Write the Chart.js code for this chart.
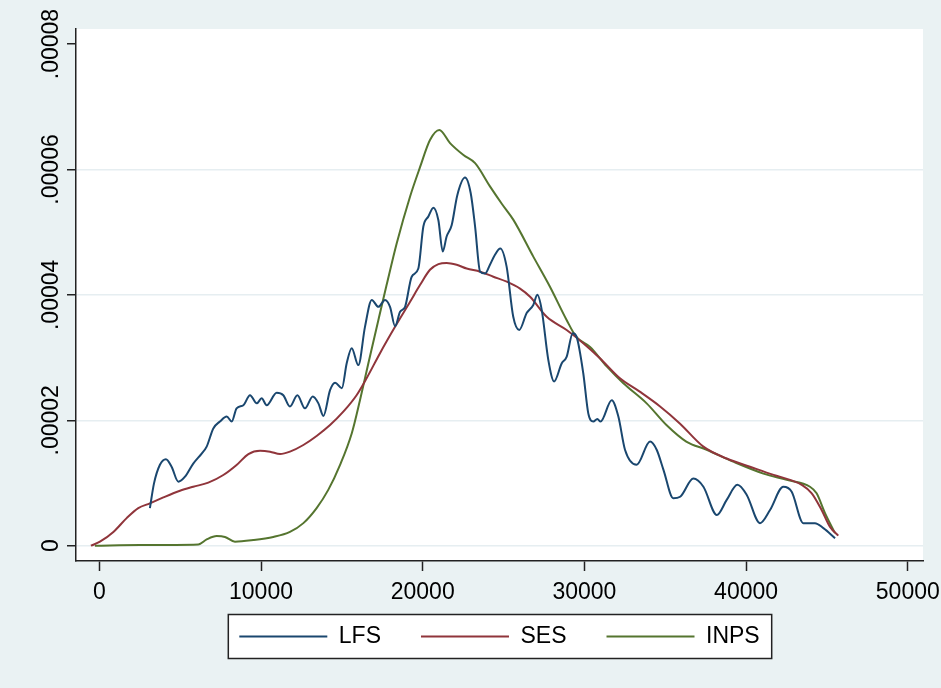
<!DOCTYPE html>
<html>
<head>
<meta charset="utf-8">
<script src="https://cdn.jsdelivr.net/npm/chart.js@4.4.1/dist/chart.umd.min.js"></script>
<style>
  html, body { margin: 0; padding: 0; background: #eaf2f3; }
  #wrap { width: 941px; height: 688px; }
</style>
</head>
<body>
<div id="wrap"><canvas id="densityChart" width="941" height="688"></canvas></div>
<script>
// values
const seriesNames = ['LFS', 'SES', 'INPS'];
const seriesColors = ['#1a476f', '#90353b', '#55752f'];
const xTicks = [0, 10000, 20000, 30000, 40000, 50000];
const yTicks = [0, 0.00002, 0.00004, 0.00006, 0.00008];

const lfsX = [3130, 3380, 3750, 4120, 4470, 4890, 5300, 5810, 6330, 6640, 7050, 7460, 7880, 8190, 8490, 8910,
  9320, 9740, 10040, 10350, 10970, 11380, 11790, 12250, 12720, 13200, 13550, 13860, 14270, 14580, 15000, 15300,
  15610, 16020, 16430, 16850, 17260, 17670, 17980, 18290, 18600, 18910, 19320, 19730, 20040, 20350, 20660, 20970,
  21240, 21480, 21790, 22140, 22620, 22970, 23240, 23550, 23860, 24160, 24470, 24800, 25190, 25600, 25970, 26430,
  26840, 27090, 27360, 27770, 28130, 28600, 28900, 29280, 29520, 29930, 30240, 30550, 30800, 31000, 31690, 32100,
  32510, 33230, 34060, 34470, 34890, 35500, 35920, 36740, 37360, 38190, 38800, 39460, 40040, 40860, 41480, 42300,
  42820, 43540, 44260, 44780, 45500];
const lfsY = [0.60e-5, 0.99e-5, 1.29e-5, 1.38e-5, 1.26e-5, 1.02e-5, 1.10e-5, 1.31e-5, 1.47e-5, 1.58e-5, 1.87e-5, 1.98e-5, 2.06e-5, 1.98e-5, 2.19e-5, 2.24e-5,
  2.40e-5, 2.27e-5, 2.35e-5, 2.24e-5, 2.44e-5, 2.40e-5, 2.22e-5, 2.40e-5, 2.19e-5, 2.38e-5, 2.27e-5, 2.07e-5, 2.48e-5, 2.60e-5, 2.51e-5, 2.91e-5,
  3.15e-5, 2.88e-5, 3.49e-5, 3.92e-5, 3.81e-5, 3.92e-5, 3.81e-5, 3.50e-5, 3.73e-5, 3.81e-5, 4.29e-5, 4.42e-5, 5.09e-5, 5.25e-5, 5.39e-5, 5.19e-5,
  4.69e-5, 4.93e-5, 5.11e-5, 5.59e-5, 5.87e-5, 5.62e-5, 5.09e-5, 4.37e-5, 4.34e-5, 4.48e-5, 4.64e-5, 4.74e-5, 4.45e-5, 3.65e-5, 3.44e-5, 3.71e-5,
  3.84e-5, 4.00e-5, 3.76e-5, 2.96e-5, 2.62e-5, 2.91e-5, 3.01e-5, 3.39e-5, 3.33e-5, 2.75e-5, 2.11e-5, 1.98e-5, 2.02e-5, 1.98e-5, 2.32e-5, 2.06e-5,
  1.53e-5, 1.29e-5, 1.66e-5, 1.53e-5, 1.21e-5, 0.755e-5, 0.78e-5, 1.07e-5, 0.94e-5, 0.49e-5, 0.73e-5, 0.97e-5, 0.81e-5, 0.36e-5, 0.57e-5, 0.94e-5,
  0.86e-5, 0.36e-5, 0.36e-5, 0.28e-5, 0.12e-5];

const sesX = [-520, 40, 870, 1690, 2410, 3130, 3960, 4990, 5810, 6740, 7670, 8490, 9220, 9940, 10560, 11180, 11790,
  12620, 13440, 14270, 15090, 15910, 16530, 17360, 18290, 19220, 19840, 20450, 20970, 21480, 22100, 22720, 23550,
  24370, 25200, 26020, 26640, 27670, 28900, 29930, 30960, 32200, 33400, 34680, 35900, 37360, 38800, 40240, 41700,
  42720, 43440, 44060, 44670, 45190, 45700];
const sesY = [0, 0.064e-5, 0.22e-5, 0.44e-5, 0.60e-5, 0.675e-5, 0.77e-5, 0.877e-5, 0.94e-5, 1.005e-5, 1.127e-5, 1.287e-5, 1.462e-5, 1.515e-5, 1.50e-5, 1.462e-5, 1.50e-5,
  1.606e-5, 1.75e-5, 1.924e-5, 2.137e-5, 2.40e-5, 2.67e-5, 3.07e-5, 3.49e-5, 3.89e-5, 4.16e-5, 4.40e-5, 4.49e-5, 4.51e-5, 4.48e-5, 4.42e-5, 4.37e-5,
  4.29e-5, 4.21e-5, 4.10e-5, 3.97e-5, 3.65e-5, 3.44e-5, 3.23e-5, 2.99e-5, 2.67e-5, 2.46e-5, 2.22e-5, 1.95e-5, 1.58e-5, 1.39e-5, 1.26e-5, 1.13e-5,
  1.05e-5, 0.97e-5, 0.835e-5, 0.57e-5, 0.30e-5, 0.16e-5];

const inpsX = [-270, 2520, 6120, 6640, 7260, 7770, 8390, 9530, 10760, 11790, 12620, 13440, 14160, 14890, 15610, 16120,
  16640, 17260, 17770, 18390, 19220, 19840, 20450, 21030, 21690, 22520, 23240, 24160, 24900, 25600, 26840, 27870,
  28900, 29500, 30350, 31380, 32410, 33850, 35090, 36300, 37560, 39200, 41070, 42510, 43950, 44360, 44880, 45500];
const inpsY = [0, 0.01e-5, 0.02e-5, 0.10e-5, 0.154e-5, 0.14e-5, 0.064e-5, 0.09e-5, 0.14e-5, 0.22e-5, 0.36e-5, 0.60e-5, 0.89e-5, 1.29e-5, 1.79e-5, 2.32e-5,
  2.91e-5, 3.60e-5, 4.16e-5, 4.82e-5, 5.57e-5, 6.04e-5, 6.47e-5, 6.63e-5, 6.42e-5, 6.23e-5, 6.10e-5, 5.73e-5, 5.45e-5, 5.20e-5, 4.61e-5, 4.13e-5,
  3.60e-5, 3.33e-5, 3.17e-5, 2.86e-5, 2.59e-5, 2.27e-5, 1.92e-5, 1.66e-5, 1.53e-5, 1.34e-5, 1.15e-5, 1.05e-5, 0.94e-5, 0.835e-5, 0.52e-5, 0.20e-5];

const allX = [lfsX, sesX, inpsX];
const allY = [lfsY, sesY, inpsY];

const tickFont = { family: '"Liberation Sans", Arial, sans-serif', size: 23 };

// white plot region + boxed legend, like a Stata graph
const stataFrame = {
  id: 'stataFrame',
  afterLayout(chart) {
    // pull the legend up closer to the x axis labels
    chart.legend.top -= 16;
    chart.legend.bottom -= 16;
  },
  beforeDraw(chart) {
    const { ctx, chartArea } = chart;
    ctx.save();
    ctx.fillStyle = '#ffffff';
    ctx.fillRect(chartArea.left, chartArea.top, chartArea.right - chartArea.left, chartArea.bottom - chartArea.top);
    const boxes = chart.legend.legendHitBoxes;
    if (boxes && boxes.length) {
      const first = boxes[0], last = boxes[boxes.length - 1];
      const cy = first.top + first.height / 2;
      const x0 = first.left - 11, x1 = last.left + last.width + 12;
      ctx.fillRect(x0, cy - 22, x1 - x0, 44);
      ctx.strokeStyle = '#222';
      ctx.lineWidth = 1.5;
      ctx.strokeRect(x0, cy - 22, x1 - x0, 44);
    }
    ctx.restore();
  }
};

const ctx = document.getElementById('densityChart').getContext('2d');
const densityChart = new Chart(ctx, {
  type: 'line',
  data: {
    datasets: seriesNames.map((name, i) => ({
      label: name,
      data: allX[i].map((x, j) => ({ x: x, y: allY[i][j] })),
      borderColor: seriesColors[i],
      backgroundColor: seriesColors[i],
      borderWidth: 2,
      pointRadius: 0,
      tension: 0.4,
      cubicInterpolationMode: 'monotone',
      fill: false
    }))
  },
  options: {
    responsive: false,
    animation: false,
    layout: { padding: { top: 29, right: 18, left: 0, bottom: 14 } },
    scales: {
      x: {
        type: 'linear',
        min: -1441,
        max: 50940,
        afterBuildTicks: (scale) => { scale.ticks = xTicks.map(v => ({ value: v })); },
        afterFit: (scale) => { scale.height = 40; scale.paddingLeft = 0; scale.paddingRight = 0; },
        grid: { drawOnChartArea: false, tickLength: 10, tickColor: '#222', tickWidth: 1.5 },
        border: { color: '#222', width: 1.5 },
        ticks: { font: tickFont, color: '#000', padding: 8, maxRotation: 0, callback: (v) => String(v) }
      },
      y: {
        min: -0.00000244,
        max: 0.0000824,
        afterBuildTicks: (scale) => { scale.ticks = yTicks.map(v => ({ value: v })); },
        afterFit: (scale) => { scale.width = 76; scale.paddingTop = 0; scale.paddingBottom = 0; },
        grid: {
          color: (c) => c.index === yTicks.length - 1 ? 'rgba(0,0,0,0)' : '#e6eef1',
          lineWidth: 1.5,
          tickLength: 9,
          tickColor: '#222',
          tickWidth: 1.5
        },
        border: { color: '#222', width: 1.5 },
        ticks: {
          font: tickFont,
          color: '#000',
          minRotation: 90,
          maxRotation: 90,
          crossAlign: 'center',
          padding: -20,
          callback: (v) => v === 0 ? '0' : v.toFixed(5).replace(/^0/, '')
        }
      }
    },
    plugins: {
      tooltip: { enabled: false },
      legend: {
        position: 'bottom',
        fullSize: false,
        labels: {
          font: tickFont,
          color: '#000',
          usePointStyle: true,
          pointStyle: 'line',
          pointStyleWidth: 88,
          padding: 40
        }
      }
    }
  },
  plugins: [stataFrame]
});
</script>
</body>
</html>
